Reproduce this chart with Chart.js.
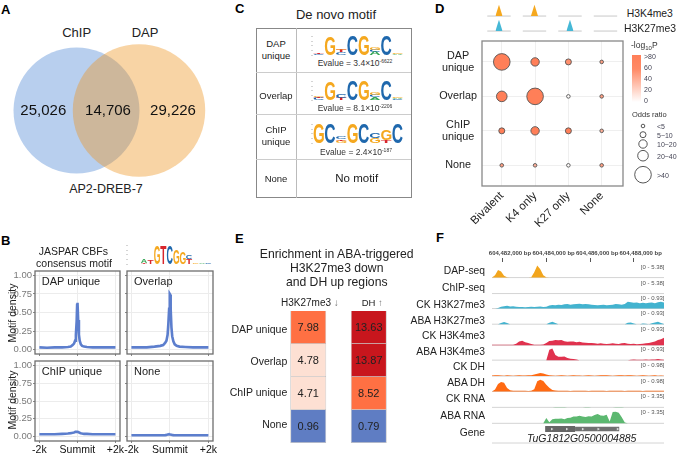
<!DOCTYPE html>
<html lang="en">
<head>
<meta charset="UTF-8">
<title>AP2-DREB-7 binding</title>
<script src="https://cdn.jsdelivr.net/npm/chart.js"></script>
<style>
  html, body { margin: 0; background: #fff; width: 679px; height: 454px; overflow: hidden; }
  canvas { position: absolute; }
  .t { position: absolute; white-space: nowrap; color: #222; font-family: "Liberation Sans", Arial, sans-serif; line-height: 1; }
  .box { position: absolute; }
</style>
</head>
<body>
<script>
// A - venn
const vennCounts = [25026, 14706, 29226];

// B - motif density around the summit
const summitX = [-2000,-1600,-1200,-800,-500,-350,-250,-180,-120,-80,-40,-15,0,15,40,80,120,180,250,350,500,800,1200,1600,2000];
const densityDap = [.03,.025,.03,.03,.035,.04,.06,.08,.12,.2,.38,.6,.63,.62,.4,.2,.12,.07,.05,.04,.035,.03,.03,.03,.03];
const densityOverlap = [.03,.03,.03,.04,.05,.06,.09,.12,.2,.35,.55,.73,.75,.74,.55,.3,.18,.11,.07,.05,.04,.035,.03,.03,.03];
const densityChip = [.035,.035,.035,.04,.045,.05,.055,.06,.065,.07,.07,.07,.07,.07,.065,.06,.055,.05,.045,.04,.04,.035,.035,.035,.035];
const densityNone = [.02,.02,.02,.02,.02,.02,.022,.025,.03,.032,.035,.035,.033,.03,.03,.028,.025,.022,.02,.02,.02,.02,.02,.02,.02];
const densityTicks = [0, .25, .5, .75, 1];
const summitTicks = [-2000, 0, 2000];
const summitLabels = ['-2k', 'Summit', '+2k'];

// motifs: each position is a bottom-to-top list of letter and bits
const motifCbf = [[],[],[['T',.1],['A',.4]],[['T',.4]],[['G',2]],[['T',2]],[['C',2]],[['G',1.6]],[['G',1.2]],[['T',.5],['C',.4]],[['G',.08]],[['A',.08]],[['C',.06]],[]];
const motifDap = [[['C',.12],['T',.12]],[['G',2]],[['C',.3],['T',.3],['G',.1]],[['C',2.2]],[['G',2.1]],[['A',.35],['C',.2],['G',.2]],[['C',2.1]],[['A',.12],['G',.12]]];
const motifOverlap = [[['C',.2],['T',.15],['G',.1]],[['G',2]],[['T',.2],['C',.4]],[['C',2.2]],[['G',2.1]],[['A',.3],['C',.25],['G',.2]],[['C',2.1]],[['C',.12],['A',.12],['G',.1]]];
const motifChip = [[['G',2.2]],[['C',2.2]],[['G',.25],['T',.15],['C',.2]],[['G',2.1]],[['C',2.1]],[['G',.6],['C',.6]],[['T',.3],['G',1.1]],[['C',2.2]]];

// D - enrichment bubbles
const histoneGroups = ['Bivalent', 'K4 only', 'K27 only', 'None'];
const peakGroups = ['DAP unique', 'Overlap', 'ChIP unique', 'None'];
const oddsDap = [45, 15, 8, 4];
const oddsOverlap = [25, 50, 3, 4];
const oddsChip = [8, 14, 8, 4];
const oddsNone = [3, 3, 3, 4];
const logpDap = [80, 80, 70, 60];
const logpOverlap = [80, 80, 2, 60];
const logpChip = [80, 80, 80, 50];
const logpNone = [60, 50, 2, 60];
const k4Marks = [1, 1, 0, 0];
const k27Marks = [1, 0, 1, 0];
const oddsLegendLabels = ['<5', '5~10', '10~20', '20~40', '>40'];
const oddsLegendValues = [3, 8, 15, 30, 50];
const logpLegendLabels = ['>80', '60', '40', '20', '0'];

// E - enrichment heatmap
const enrichColumns = ['H3K27me3', 'DH'];
const enrichK27 = [7.98, 4.78, 4.71, 0.96];
const enrichDh = [13.63, 13.87, 8.52, 0.79];

// F - browser tracks, signal as percent of track height
const genomeTicks = [604482000, 604484000, 604486000, 604488000];
const trackDapSeq = [0,15,50,40,12,2,0,0,0,0,0,0,0,2,35,80,55,15,2,0,0,0,0,0,0,0,0,0,0,0,0,0,0,0,0,0,0,0,0,0,0,0,0,0,0,0,0,0,0,0,0,0,0,0,0,0,0,0];
const trackChipSeq = [0,0,0,0,0,0,0,0,0,0,0,0,0,0,0,0,0,0,0,0,0,0,0,0,0,0,0,0,0,0,0,0,0,0,0,0,0,0,0,0,0,0,0,0,0,0,0,0,0,0,0,0,0,0,0,0,0,0];
const trackCkK27 = [0,0,4,12,16,18,14,15,12,10,10,8,10,12,10,12,14,10,12,20,24,22,26,24,28,30,26,28,30,32,28,30,28,26,24,22,24,26,22,24,26,30,28,26,30,45,42,38,40,36,38,35,38,40,36,42,45,40];
const trackAbaK27 = [0,0,0,8,14,8,0,0,0,0,0,0,0,0,0,0,0,0,0,10,16,8,0,0,0,0,0,0,0,0,0,0,0,0,0,0,0,0,0,0,0,0,0,0,0,10,12,4,0,0,5,3,0,6,12,16,8,2];
const trackCkK4 = [2,2,3,2,3,2,2,3,10,25,30,20,15,8,3,2,3,4,15,28,30,35,32,34,26,22,24,25,20,22,18,16,14,15,12,10,12,10,8,10,12,10,8,12,14,10,8,10,6,8,10,12,14,20,25,35,40,50];
const trackAbaK4 = [0,0,0,0,0,0,0,0,0,0,0,0,0,0,0,0,0,0,0,70,78,35,22,22,25,14,10,8,4,0,0,0,0,0,0,0,0,0,0,0,0,0,0,0,0,0,2,4,3,2,3,4,3,5,4,8,5,3];
const trackCkDh = [4,5,6,4,3,5,4,3,4,5,4,4,5,6,10,16,20,18,10,5,4,3,4,5,4,3,4,5,4,4,3,4,5,4,3,4,5,6,5,4,3,4,5,6,4,5,6,4,3,4,5,4,3,4,5,3,4,3];
const trackAbaDh = [0,12,50,62,58,22,8,5,4,4,4,4,3,4,15,68,78,70,45,25,10,6,5,4,4,4,3,4,4,4,4,4,3,4,4,5,4,4,3,4,4,5,4,4,3,4,4,5,4,4,3,4,4,5,4,4,5,4];
const trackCkRna = [0,0,0,0,0,0,0,0,0,0,0,0,0,0,0,0,0,0,0,0,0,2,3,3,2,0,0,0,0,0,0,2,2,0,0,0,0,0,0,0,0,2,3,2,0,0,0,0,0,0,0,0,0,0,0,0,0,0];
const trackAbaRna = [0,0,0,0,0,0,0,0,0,0,0,0,0,0,0,0,0,0,35,8,28,30,30,32,28,35,38,45,45,50,45,42,48,45,55,62,52,50,58,12,75,78,70,40,5,0,0,0,0,0,0,0,0,0,0,0,0,0];
const trackNames = ['DAP-seq','ChIP-seq','CK H3K27me3','ABA H3K27me3','CK H3K4me3','ABA H3K4me3','CK DH','ABA DH','CK RNA','ABA RNA'];
const trackRanges = ['5.38','5.38','0.93','0.93','0.93','0.93','0.98','0.98','3.35','3.35'];
const geneStart = 604483935, geneCdsEnd = 604485308, geneEnd = 604487335;
const geneStrandMarks = [604484242, 604484928, 604485661, 604486375, 604487262];

Chart.defaults.font.family = '"Liberation Sans", Arial, sans-serif';
Chart.defaults.color = '#222';
Chart.defaults.animation = false;
Chart.defaults.responsive = false;
Chart.defaults.plugins.legend.display = false;
Chart.defaults.plugins.tooltip.enabled = false;

function txt(x, y, str, o = {}) {
  const el = document.createElement('div');
  el.className = 't';
  el.innerHTML = str;
  el.style.fontSize = (o.size || 10.5) + 'px';
  if (o.weight) el.style.fontWeight = o.weight;
  if (o.color) el.style.color = o.color;
  if (o.italic) el.style.fontStyle = 'italic';
  el.style.left = x + 'px';
  el.style.top = y + 'px';
  const ax = o.align === 'right' ? '-100%' : o.align === 'center' ? '-50%' : '0';
  el.style.transform = `translate(${ax},-50%)` + (o.rot ? ` rotate(${o.rot}deg)` : '');
  document.body.appendChild(el);
}

function rect(x, y, w, h, css) {
  const el = document.createElement('div');
  el.className = 'box';
  el.style.cssText = `left:${x}px;top:${y}px;width:${w}px;height:${h}px;${css}`;
  document.body.appendChild(el);
}

// puts a chart on the page so that its plot area lands exactly on box
function place(box, m, config) {
  const c = document.createElement('canvas');
  c.width = box.w + m.l + m.r;
  c.height = box.h + m.t + m.b;
  c.style.left = (box.x - m.l) + 'px';
  c.style.top = (box.y - m.t) + 'px';
  document.body.appendChild(c);
  const xTop = config.options.scales.x.position === 'top';
  config.options.layout = { autoPadding: false, padding: { top: xTop ? 0 : m.t, right: m.r, left: 0, bottom: 0 } };
  Object.assign(config.options.scales.x, { afterFit: s => { s.height = xTop ? m.t : m.b; s.paddingLeft = s.paddingRight = 0; } });
  Object.assign(config.options.scales.y, { afterFit: s => { s.width = m.l; s.paddingTop = s.paddingBottom = 0; } });
  config.options.devicePixelRatio = 1;
  return new Chart(c, config);
}

const blank = (min, max, extra) => Object.assign({
  type: 'linear', min, max, bounds: 'data',
  ticks: { display: false },
  grid: { display: false },
  border: { display: false }
}, extra || {});

const fixedTicks = vals => s => { s.ticks = vals.map(v => ({ value: v })); };

const frame = (color, width) => ({
  id: 'frame',
  afterDraw(chart) {
    const a = chart.chartArea, ctx = chart.ctx;
    ctx.save();
    ctx.strokeStyle = color;
    ctx.lineWidth = width;
    ctx.strokeRect(a.left, a.top, a.right - a.left, a.bottom - a.top);
    ctx.restore();
  }
});

const letterColors = { G: '#f5a81f', C: '#1f68ad', T: '#d8262c', A: '#35a654' };

const logoLetters = motif => ({
  id: 'logoLetters',
  afterDatasetsDraw(chart) {
    const ctx = chart.ctx, xs = chart.scales.x, ys = chart.scales.y;
    ctx.save();
    ctx.font = 'bold 40px "Liberation Sans"';
    ctx.textBaseline = 'alphabetic';
    motif.forEach((stack, i) => {
      let bits = 0;
      const l = xs.getPixelForValue(i), r = xs.getPixelForValue(i + 1);
      stack.forEach(([ch, h]) => {
        const bot = ys.getPixelForValue(bits), top = ys.getPixelForValue(bits + h);
        const mt = ctx.measureText(ch);
        const w = mt.actualBoundingBoxLeft + mt.actualBoundingBoxRight;
        const ht = mt.actualBoundingBoxAscent + mt.actualBoundingBoxDescent;
        ctx.save();
        ctx.translate(l + (r - l) * 0.03, bot);
        ctx.scale((r - l) * 0.94 / w, (bot - top) / ht);
        ctx.fillStyle = letterColors[ch];
        ctx.fillText(ch, mt.actualBoundingBoxLeft, -mt.actualBoundingBoxDescent);
        ctx.restore();
        bits += h;
      });
    });
    ctx.restore();
  }
});

function logo(box, motif, leftAxis) {
  return place(box, { l: leftAxis ? 7 : 0, r: 1, t: 1, b: 1 }, {
    type: 'scatter',
    data: { datasets: [{ data: [] }] },
    options: {
      scales: {
        x: blank(0, motif.length),
        y: leftAxis ? {
          type: 'linear', min: 0, max: 2.2, bounds: 'data',
          afterBuildTicks: fixedTicks([0, .5, 1, 1.5, 2]),
          ticks: { display: false },
          grid: { drawOnChartArea: false, tickLength: 2, tickColor: '#d4d4d4' },
          border: { display: false }
        } : blank(0, 2.2)
      }
    },
    plugins: [logoLetters(motif)]
  });
}

// panel letters
[['A', 1, 9], ['B', 1, 240], ['C', 235, 8], ['D', 435, 8], ['E', 235, 238], ['F', 436, 237]]
  .forEach(p => txt(p[1], p[2], p[0], { size: 13, weight: 'bold', color: '#000' }));

// ---------- A ----------
const chipTotal = vennCounts[0] + vennCounts[1];
const dapTotal = vennCounts[2] + vennCounts[1];
place({ x: 5, y: 40, w: 205, h: 141 }, { l: 0, r: 0, t: 0, b: 0 }, {
  type: 'bubble',
  data: { datasets: [
    { data: [{ x: 1, y: 0, r: 0.316 * Math.sqrt(dapTotal) }], backgroundColor: 'rgba(237,147,30,.4)', borderWidth: 0, clip: false, order: 0 },
    { data: [{ x: 0, y: 0, r: 0.316 * Math.sqrt(chipTotal) }], backgroundColor: '#b8cfee', borderWidth: 0, clip: false, order: 1 }
  ] },
  options: { scales: { x: blank(-1.144, 2.136), y: blank(-1, 1) } }
});
txt(76.7, 32, 'ChIP', { size: 13, align: 'center' });
txt(145, 32, 'DAP', { size: 13, align: 'center' });
[43.3, 108, 173].forEach((x, i) => txt(x, 109, vennCounts[i].toLocaleString('en-US'), { size: 15, align: 'center', color: '#111' }));
txt(106, 189, 'AP2-DREB-7', { size: 12.5, align: 'center' });

// ---------- B ----------
function densityPanel(box, values, name, showY, showX) {
  place(box, { l: 35, r: 12, t: 2, b: 16 }, {
    type: 'line',
    data: { datasets: [{
      data: summitX.map((x, i) => ({ x, y: values[i] })),
      borderColor: '#5c7ecd', borderWidth: 2.6, pointRadius: 0, tension: 0
    }] },
    options: {
      scales: {
        x: {
          type: 'linear', min: -2230, max: 2240, bounds: 'data',
          afterBuildTicks: fixedTicks(summitTicks),
          ticks: {
            display: showX, autoSkip: false, maxRotation: 0, padding: 1,
            font: { size: 10.5 }, color: '#111',
            callback: v => summitLabels[summitTicks.indexOf(v)]
          },
          grid: { color: '#ececec', tickColor: '#888', tickLength: 2 },
          border: { display: false }
        },
        y: {
          type: 'linear', min: -0.06, max: 1.06, bounds: 'data',
          afterBuildTicks: fixedTicks(densityTicks),
          ticks: { display: showY, padding: 1, font: { size: 9.5 }, color: '#7a7a7a', callback: v => v.toFixed(2) },
          grid: { color: '#ececec', tickColor: '#888', tickLength: 2 },
          border: { display: false }
        }
      }
    },
    plugins: [frame('#6e6e6e', 1.3)]
  });
  txt(box.x + 6.7, box.y + 10.3, name, { size: 11 });
}
densityPanel({ x: 35, y: 271, w: 85, h: 83 }, densityDap, 'DAP unique', true, false);
densityPanel({ x: 127.3, y: 271, w: 86.7, h: 83 }, densityOverlap, 'Overlap', false, false);
densityPanel({ x: 35, y: 361, w: 85, h: 80 }, densityChip, 'ChIP unique', true, true);
densityPanel({ x: 127.3, y: 361, w: 86.7, h: 80 }, densityNone, 'None', false, true);
txt(11.7, 312.7, 'Motif density', { size: 10.5, align: 'center', rot: -90 });
txt(11.7, 400, 'Motif density', { size: 10.5, align: 'center', rot: -90 });
txt(73.3, 250.7, 'JASPAR CBFs', { size: 10.5, align: 'center' });
txt(74, 262.7, 'consensus motif', { size: 10.5, align: 'center' });
logo({ x: 128, y: 244, w: 90, h: 20 }, motifCbf, true);

// ---------- C ----------
rect(255.7, 28, 156, 170, 'border:1px solid #888;box-sizing:border-box;');
rect(296, 28, 1, 170, 'background:#bbb;');
[72, 114, 159].forEach(y => rect(256, y, 155, 1, 'background:#ccc;'));
txt(336, 14, 'De novo motif', { size: 13, align: 'center' });
txt(276, 44.3, 'DAP', { size: 9.5, align: 'center' });
txt(276, 56, 'unique', { size: 9.5, align: 'center' });
txt(276, 96, 'Overlap', { size: 9.5, align: 'center' });
txt(276, 130, 'ChIP', { size: 9.5, align: 'center' });
txt(276, 141.7, 'unique', { size: 9.5, align: 'center' });
txt(276, 179, 'None', { size: 9.5, align: 'center' });
logo({ x: 313, y: 35, w: 90, h: 20 }, motifDap, true);
logo({ x: 313, y: 79.5, w: 90, h: 20 }, motifOverlap, true);
logo({ x: 313, y: 123.3, w: 90, h: 20 }, motifChip, true);
const sup = s => `<sup style="font-size:5px;vertical-align:3px;line-height:0">${s}</sup>`;
txt(355, 63.3, 'Evalue = 3.4×10' + sup('-6622'), { size: 8.5, align: 'center', color: '#333' });
txt(355, 107.7, 'Evalue = 8.1×10' + sup('-2206'), { size: 8.5, align: 'center', color: '#333' });
txt(356, 152.3, 'Evalue = 2.4×10' + sup('-187'), { size: 8.5, align: 'center', color: '#333' });
txt(356.7, 179, 'No motif', { size: 11.5, align: 'center' });

// ---------- D ----------
const oddsRadius = v => v < 5 ? 1.8 : v < 10 ? 3 : v < 20 ? 4.2 : v <= 40 ? 5.3 : 8.3;
const logpColor = p => {
  const f = Math.min(p, 80) / 80;
  const mix = (a, b) => Math.round(a + (b - a) * f);
  return `rgb(${mix(255, 255)},${mix(255, 127)},${mix(255, 88)})`;
};
const oddsRows = [oddsDap, oddsOverlap, oddsChip, oddsNone];
const logpRows = [logpDap, logpOverlap, logpChip, logpNone];
const bubblePoints = [], bubbleColors = [];
oddsRows.forEach((row, r) => row.forEach((odds, c) => {
  bubblePoints.push({ x: c, y: r, r: oddsRadius(odds) });
  bubbleColors.push(logpColor(logpRows[r][c]));
}));
place({ x: 481.7, y: 41.3, w: 141.6, h: 145.4 }, { l: 60, r: 2, t: 2, b: 48 }, {
  type: 'bubble',
  data: { datasets: [{ data: bubblePoints, backgroundColor: bubbleColors, borderColor: '#555', borderWidth: 0.9 }] },
  options: {
    scales: {
      x: {
        type: 'linear', min: -0.594, max: 3.64, bounds: 'data',
        afterBuildTicks: fixedTicks([0, 1, 2, 3]),
        ticks: { autoSkip: false, minRotation: 45, maxRotation: 45, padding: 3, font: { size: 11.5 }, callback: v => histoneGroups[v] },
        grid: { color: '#efefef', drawTicks: false },
        border: { display: false }
      },
      y: {
        type: 'linear', reverse: true, min: -0.607, max: 3.6, bounds: 'data',
        afterBuildTicks: fixedTicks([0, 1, 2, 3]),
        ticks: {
          crossAlign: 'center', padding: 5, font: { size: 10.8, lineHeight: 1.17 },
          callback: v => { const n = peakGroups[v]; return n.includes(' ') ? n.split(' ') : n; }
        },
        grid: { color: '#efefef', drawTicks: false },
        border: { display: false }
      }
    }
  },
  plugins: [frame('#888', 1.3)]
});

// little peak glyphs above the columns
function markLines(marks, base, color) {
  const sets = [];
  marks.forEach((on, c) => {
    sets.push({
      data: [{ x: c - 0.33, y: base }, { x: c + 0.33, y: base }],
      borderColor: '#c8c8c8', borderWidth: 1, pointRadius: 0
    });
    if (on) sets.unshift({
      data: [{ x: c - 0.1, y: base }, { x: c, y: base + 0.75 }, { x: c + 0.1, y: base }],
      borderWidth: 0, backgroundColor: color, pointRadius: 0, fill: { value: base }
    });
  });
  return sets;
}
place({ x: 480, y: 3, w: 145, h: 30 }, { l: 0, r: 0, t: 0, b: 0 }, {
  type: 'line',
  data: { datasets: markLines(k4Marks, 1, '#f5a81f').concat(markLines(k27Marks, 0, '#45b8d6')) },
  options: { scales: { x: blank(-0.535, 3.55), y: blank(-0.13, 1.87) } }
});
txt(626.7, 14.3, 'H3K4me3', { size: 10.4 });
txt(624, 29, 'H3K27me3', { size: 10.4 });

// colour legend
txt(631, 45, '-log<sub style="font-size:6px;line-height:0">10</sub>P', { size: 8.5, color: '#333' });
rect(631.7, 55, 9, 46.7, 'background:linear-gradient(#ff7f58 0%,#ff8a66 30%,#ffffff 100%);');
[56, 67, 78, 89, 100].forEach((y, i) => txt(644, y, logpLegendLabels[i], { size: 7, color: '#445' }));

// size legend
txt(632, 115, 'Odds ratio', { size: 7.5, color: '#333' });
const legendRows = [126, 134.7, 144, 155.7, 174.7];
place({ x: 632, y: 120, w: 22, h: 66 }, { l: 0, r: 0, t: 0, b: 0 }, {
  type: 'bubble',
  data: { datasets: [{
    data: oddsLegendValues.map((v, i) => ({ x: 0, y: legendRows[i], r: oddsRadius(v) })),
    backgroundColor: '#fff', borderColor: '#444', borderWidth: 0.9, clip: false
  }] },
  options: { scales: { x: blank(-0.5, 0.5), y: blank(120, 186, { reverse: true }) } }
});
legendRows.forEach((y, i) => txt(657, y, oddsLegendLabels[i], { size: 7, color: '#445' }));

// ---------- E ----------
const heat = v => v < 2 ? '#5f7dc3' : v < 6 ? '#fde0d3' : v < 10 ? '#ff7043' : '#c8161d';
place({ x: 278.4, y: 311, w: 121.2, h: 132.3 }, { l: 0, r: 0, t: 1, b: 1 }, {
  type: 'bar',
  data: {
    labels: enrichColumns,
    datasets: peakGroups.map((g, i) => ({
      label: g,
      data: [1, 1],
      backgroundColor: [heat(enrichK27[i]), heat(enrichDh[i])],
      borderColor: '#bdbdbd', borderWidth: 0.8,
      barPercentage: 0.594, categoryPercentage: 1
    }))
  },
  options: {
    scales: {
      x: { type: 'category', stacked: true, ticks: { display: false }, grid: { display: false }, border: { display: false } },
      y: blank(0, 4, { stacked: true, reverse: true })
    }
  },
  plugins: [{
    id: 'cellValues',
    afterDatasetsDraw(chart) {
      const ctx = chart.ctx;
      ctx.save();
      ctx.font = '11px "Liberation Sans"';
      ctx.fillStyle = '#222';
      ctx.textAlign = 'center';
      ctx.textBaseline = 'middle';
      peakGroups.forEach((g, i) => {
        chart.getDatasetMeta(i).data.forEach((bar, j) => {
          const p = bar.getCenterPoint();
          ctx.fillText((j ? enrichDh : enrichK27)[i].toFixed(2), p.x, p.y);
        });
      });
      ctx.restore();
    }
  }]
});
txt(336.7, 253.7, 'Enrichment in ABA-triggered', { size: 12.2, align: 'center' });
txt(336.7, 268, 'H3K27me3 down', { size: 12.2, align: 'center' });
txt(336.7, 282, 'and DH up regions', { size: 12.2, align: 'center' });
txt(281, 303, enrichColumns[0] + ' <span style="color:#777">↓</span>', { size: 10 });
txt(361.7, 303, enrichColumns[1] + ' <span style="color:#777">↑</span>', { size: 9.5 });
[329, 360.7, 392.3, 424.3].forEach((y, i) => txt(287.3, y, peakGroups[i], { size: 10.5, align: 'right' }));

// ---------- F ----------
const bpMin = 604481496, bpMax = 604489390;
const tracks = [
  [trackDapSeq, '#f2a51c'], [trackChipSeq, '#f2a51c'],
  [trackCkK27, '#43b3cf'], [trackAbaK27, '#43b3cf'],
  [trackCkK4, '#e0324e'], [trackAbaK4, '#e0324e'],
  [trackCkDh, '#ff6a13'], [trackAbaDh, '#ff6a13'],
  [trackCkRna, '#5cb870'], [trackAbaRna, '#5cb870']
];
const trackBase = [15.6, 31.6, 46.6, 62.3, 83.3, 98.3, 114.3, 129.6, 145.6, 161.6];
const binX = i => bpMin + i * (bpMax - bpMin) / 57;
const trackSets = [];
tracks.forEach(([vals, color], t) => {
  trackSets.push({
    data: vals.map((v, i) => ({ x: binX(i), y: trackBase[t] - v * 0.15 })),
    borderWidth: 0, pointRadius: 0, backgroundColor: color, fill: { value: trackBase[t] }
  });
  trackSets.push({
    data: [{ x: bpMin, y: trackBase[t] }, { x: bpMax, y: trackBase[t] }],
    borderColor: '#cfcfcf', borderWidth: 0.9, pointRadius: 0
  });
});
trackSets.unshift(
  { data: geneStrandMarks.map(x => ({ x, y: 167.3 })), showLine: false, pointStyle: 'triangle', rotation: 90, pointRadius: 1.6, backgroundColor: '#ddd', borderWidth: 0 },
  { data: [{ x: geneStart, y: 167.3 }, { x: geneCdsEnd, y: 167.3 }], borderColor: '#666', borderWidth: 6, pointRadius: 0 },
  { data: [{ x: geneCdsEnd, y: 167.3 }, { x: geneEnd, y: 167.3 }], borderColor: '#707070', borderWidth: 4.5, pointRadius: 0 },
  { data: [{ x: bpMin, y: 181.3 }, { x: bpMax, y: 181.3 }], borderColor: '#cfcfcf', borderWidth: 0.9, pointRadius: 0 }
);
place({ x: 491.7, y: 261.7, w: 172.6, h: 183.3 }, { l: 20, r: 14, t: 14, b: 0 }, {
  type: 'line',
  data: { datasets: trackSets },
  options: {
    scales: {
      x: {
        type: 'linear', position: 'top', min: bpMin, max: bpMax, bounds: 'data',
        afterBuildTicks: fixedTicks(genomeTicks),
        ticks: {
          autoSkip: false, maxRotation: 0, padding: 1, labelOffset: 7,
          font: { size: 6, weight: 'bold' }, color: '#444',
          callback: v => v.toLocaleString('en-US') + ' bp'
        },
        grid: { drawOnChartArea: false, tickLength: 4, tickColor: '#555' },
        border: { display: false }
      },
      y: blank(0, 183.3, { reverse: true })
    }
  }
});
[270.7, 287.7, 305, 321, 335.7, 351.7, 367.3, 382.7, 398.7, 415.7].forEach((y, i) => txt(485, y, trackNames[i], { size: 10.3, align: 'right' }));
txt(485, 433, 'Gene', { size: 10.3, align: 'right' });
[267, 282.7, 298, 313.3, 328.7, 349.3, 365, 380.7, 396, 411.7].forEach((y, i) => txt(664.5, y, `[0 - ${trackRanges[i]}]`, { size: 6, align: 'right', color: '#555' }));
txt(581.7, 438, 'TuG1812G0500004885', { size: 10.5, align: 'center', italic: true });
</script>
</body>
</html>
